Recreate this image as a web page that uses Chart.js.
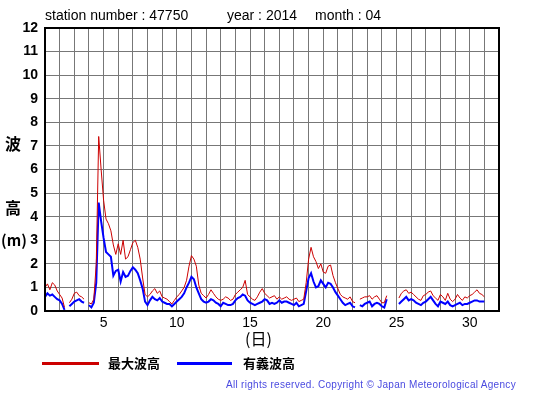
<!DOCTYPE html>
<html><head><meta charset="utf-8">
<script src="https://cdn.jsdelivr.net/npm/chart.js@4/dist/chart.umd.min.js"></script>
<style>
html,body{margin:0;padding:0;background:#fff;}
#wrap{position:relative;width:555px;height:395px;overflow:hidden;font-family:"Liberation Sans",Arial,Helvetica,sans-serif;}
canvas{position:absolute;left:0;top:0;}
.t{position:absolute;white-space:nowrap;color:#000;}
</style></head><body>
<div id="wrap">
<canvas id="c" width="555" height="395"></canvas>
<div class="t" style="left:45px;top:7px;font-size:14px;">station number : 47750</div>
<div class="t" style="left:227px;top:7px;font-size:14px;">year : 2014</div>
<div class="t" style="left:315px;top:7px;font-size:14px;">month : 04</div>
<div class="t" style="left:5px;top:134px;font-size:16px;font-family:'Noto Sans CJK JP';font-weight:bold;line-height:18px;">波</div>
<div class="t" style="left:5px;top:198px;font-size:16px;font-family:'Noto Sans CJK JP';font-weight:bold;line-height:18px;">高</div>
<div class="t" style="left:1px;top:231px;font-size:15px;font-family:'Noto Sans CJK JP';font-weight:bold;line-height:18px;">(m)</div>
<div class="t" style="left:245px;top:328px;font-size:16px;font-family:'Noto Sans CJK JP';line-height:20px;">(日)</div>
<div style="position:absolute;left:42px;top:362px;width:57px;height:3px;background:#cc0000;"></div>
<div class="t" style="left:108px;top:354px;font-size:13px;font-weight:bold;font-family:'Noto Sans CJK JP';line-height:18px;">最大波高</div>
<div style="position:absolute;left:177px;top:362px;width:55px;height:3px;background:#0000ff;"></div>
<div class="t" style="left:243px;top:354px;font-size:13px;font-weight:bold;font-family:'Noto Sans CJK JP';line-height:18px;">有義波高</div>
<div class="t" id="copy" style="left:226px;top:379px;font-size:10px;color:#4a4ae0;letter-spacing:0.3px;font-family:'Liberation Sans';line-height:12px;">All rights reserved. Copyright © Japan Meteorological Agency</div>
</div>
<script>
// Day grid: 6 readings per day (every 4 hours), starting at day 1.0
const firstDay = 1;
const readingsPerDay = 6;
const dayTicks = [5, 10, 15, 20, 25, 30];

const maxWave = [
 1.0, 1.15, 0.9, 1.2, 1.1, 0.85,
 0.7, 0.55, 0.15, null, 0.35, 0.5,
 0.75, 0.8, 0.65, 0.6, 0.5, null,
 0.35, 0.3, 0.5, 2.0, 7.4, 6.0,
 4.7, 3.9, 3.7, 3.4, 2.8, 2.4,
 2.85, 2.4, 3.0, 2.2, 2.3, 2.6,
 2.9, 3.0, 2.7, 2.2, 1.4, 0.7,
 0.6, 0.7, 0.85, 0.95, 0.75, 0.85,
 0.6, 0.55, 0.5, 0.4, 0.3, 0.45,
 0.6, 0.7, 0.85, 1.0, 1.3, 1.9,
 2.35, 2.2, 1.9, 1.1, 0.75, 0.65,
 0.55, 0.7, 0.9, 0.75, 0.6, 0.5,
 0.45, 0.5, 0.6, 0.55, 0.45, 0.5,
 0.7, 0.8, 0.9, 1.0, 1.3, 0.7,
 0.6, 0.5, 0.45, 0.6, 0.8, 0.95,
 0.75, 0.65, 0.55, 0.6, 0.65, 0.5,
 0.6, 0.5, 0.55, 0.6, 0.5, 0.45,
 0.5, 0.55, 0.4, 0.45, 0.5, 1.2,
 2.2, 2.7, 2.3, 2.1, 1.8, 2.0,
 1.65, 1.6, 1.9, 1.95, 1.5, 1.2,
 0.95, 0.7, 0.6, 0.55, 0.5, 0.6,
 0.4, 0.35, null, 0.5, 0.55, 0.6,
 0.6, 0.65, 0.5, 0.6, 0.65, 0.5,
 0.35, 0.35, 0.65, null, null, null,
 null, 0.55, 0.75, 0.85, 0.9, 0.75,
 0.8, 0.7, 0.6, 0.5, 0.45, 0.65,
 0.7, 0.8, 0.85, 0.65, 0.55, 0.45,
 0.7, 0.6, 0.45, 0.75, 0.5, 0.4,
 0.5, 0.7, 0.55, 0.45, 0.6, 0.55,
 0.65, 0.7, 0.8, 0.9, 0.75, 0.7,
 0.6
];

const sigWave = [
 0.6, 0.75, 0.65, 0.7, 0.6, 0.5,
 0.45, 0.3, 0.05, null, 0.2, 0.3,
 0.4, 0.45, 0.5, 0.4, 0.35, null,
 0.25, 0.15, 0.35, 1.2, 4.6, 3.8,
 3.1, 2.5, 2.4, 2.3, 1.5, 1.7,
 1.75, 1.25, 1.65, 1.45, 1.5, 1.7,
 1.85, 1.75, 1.6, 1.3, 0.95, 0.4,
 0.25, 0.45, 0.6, 0.5, 0.45, 0.55,
 0.4, 0.35, 0.3, 0.3, 0.2, 0.3,
 0.4, 0.5, 0.6, 0.75, 1.0, 1.2,
 1.45, 1.35, 1.0, 0.75, 0.5, 0.4,
 0.35, 0.4, 0.5, 0.45, 0.35, 0.3,
 0.2, 0.35, 0.3, 0.25, 0.25, 0.3,
 0.45, 0.55, 0.6, 0.7, 0.65, 0.45,
 0.35, 0.3, 0.25, 0.3, 0.35, 0.4,
 0.5, 0.45, 0.3, 0.35, 0.3, 0.35,
 0.45, 0.35, 0.4, 0.4, 0.35, 0.3,
 0.25, 0.35, 0.2, 0.25, 0.3, 0.85,
 1.4, 1.6, 1.25, 1.0, 1.05, 1.3,
 1.15, 1.0, 1.2, 1.15, 1.0, 0.8,
 0.65, 0.5, 0.35, 0.25, 0.3, 0.35,
 0.2, 0.15, null, 0.25, 0.2, 0.3,
 0.35, 0.4, 0.2, 0.3, 0.35, 0.3,
 0.2, 0.15, 0.5, null, null, null,
 null, 0.3, 0.4, 0.5, 0.6, 0.45,
 0.5, 0.45, 0.35, 0.3, 0.25, 0.35,
 0.4, 0.5, 0.6, 0.45, 0.3, 0.2,
 0.4, 0.35, 0.3, 0.4, 0.25, 0.2,
 0.25, 0.3, 0.35, 0.25, 0.3, 0.3,
 0.35, 0.4, 0.45, 0.45, 0.4, 0.4,
 0.4
];

const toPoints = arr => arr.map((v, i) => ({x: firstDay + i / readingsPerDay, y: v}));

new Chart(document.getElementById('c'), {
  type: 'line',
  data: {
    datasets: [
      {label: '最大波高', data: toPoints(maxWave), borderColor: '#cc0000', borderWidth: 1, pointRadius: 0, tension: 0, spanGaps: false},
      {label: '有義波高', data: toPoints(sigWave), borderColor: '#0000ff', borderWidth: 2, pointRadius: 0, tension: 0, spanGaps: false}
    ]
  },
  options: {
    responsive: false,
    animation: false,
    events: [],
    layout: {padding: {left: 0, top: 28, right: 56, bottom: 64}},
    plugins: {legend: {display: false}, tooltip: {enabled: false}, title: {display: false}},
    scales: {
      x: {
        type: 'linear', min: 1, max: 32,
        grid: {color: '#777777', lineWidth: 1, drawTicks: false},
        border: {color: '#000', width: 2},
        ticks: {stepSize: 1, autoSkip: false, maxRotation: 0, padding: 4, color: '#000',
          font: {family: '"Liberation Sans", Arial, sans-serif', size: 14},
          callback: v => dayTicks.includes(v) ? String(v) : ''},
        afterFit: s => { s.height = 20; }
      },
      y: {
        min: 0, max: 12,
        grid: {color: '#777777', lineWidth: 1, drawTicks: false},
        border: {color: '#000', width: 2},
        ticks: {stepSize: 1, padding: 7, color: '#000',
          font: {family: '"Liberation Sans", Arial, sans-serif', size: 14, weight: 'bold'}},
        afterFit: s => { s.width = 45; }
      }
    }
  },
  plugins: [{
    id: 'frame',
    afterDraw(chart) {
      const {ctx, chartArea: a} = chart;
      ctx.save(); ctx.strokeStyle = '#000'; ctx.lineWidth = 2;
      ctx.strokeRect(a.left, a.top, a.right - a.left, a.bottom - a.top);
      ctx.restore();
    }
  }]
});
</script>
</body></html>
